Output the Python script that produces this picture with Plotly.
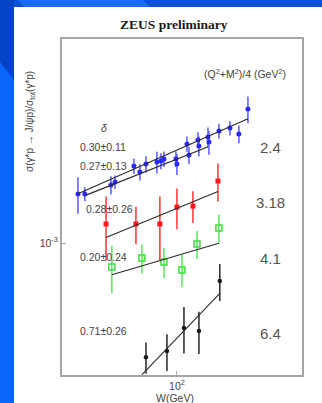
import numpy as np
import plotly.graph_objects as go

# ---- data: W (GeV) and sigma(gamma* p -> J/psi p) / sigma_tot(gamma* p), in units of 1e-3 ----
blue_W = [28.2, 30.8, 43.0, 45.3, 57.7, 62.3, 67.3, 77.4, 81.5, 84.7, 98.7, 100.0,
          113.7, 116.6, 130.8, 132.5, 148.7, 150.6, 171.2, 196.9, 220.8, 247.9]
blue_ratio = [1.531, 1.531, 1.655, 1.699, 1.953, 1.853, 1.987, 2.020, 2.040, 2.075, 2.075, 1.987,
              2.364, 2.148, 2.447, 2.323, 2.512, 2.404, 2.647, 2.716, 2.578, 3.204]
blue_err = [0.24, 0.094, 0.13, 0.10, 0.13, 0.13, 0.14, 0.19, 0.14, 0.14, 0.14, 0.18,
            0.16, 0.16, 0.17, 0.20, 0.22, 0.25, 0.17, 0.17, 0.20, 0.37]

red_W = [40.4, 59.2, 80.4, 100.0, 122.7, 169.0]
red_ratio = [1.180, 1.180, 1.180, 1.367, 1.379, 1.714]
red_err = [0.32, 0.19, 0.32, 0.24, 0.19, 0.28]

green_W = [43.5, 63.9, 84.7, 106.6, 129.2, 171.0]
green_ratio = [0.812, 0.878, 0.848, 0.791, 0.991, 1.139]
green_err = [0.165, 0.11, 0.11, 0.11, 0.12, 0.14]

black_W = [67.3, 88.0, 109.4, 132.5, 173.0]
black_ratio = [0.371, 0.391, 0.478, 0.466, 0.719]
black_err = [0.050, 0.062, 0.095, 0.085, 0.115]

# power-law fits  ratio = norm * (W / 100 GeV)^delta
fit_delta = [0.30, 0.27, 0.28, 0.20, 0.71]
fit_delta_err = [0.11, 0.13, 0.26, 0.24, 0.26]
fit_norm = [2.244, 2.075, 1.352, 0.896, 0.438]      # value at W = 100 GeV, units of 1e-3
fit_Wmin = [28.2, 30.8, 40.4, 43.5, 64.0]
fit_Wmax = [248.0, 149.0, 169.0, 171.0, 173.0]

bin_labels = ["2.4", "3.18", "4.1", "6.4"]

SCALE = 1e-3

W, H = 322, 403
L, R, T, B = 62, 302, 39, 375   # plot frame in pixels


def px(x):
    return (x - L) / (R - L)


def py(y):
    return (B - y) / (B - T)


fig = go.Figure()

series = [
    (blue_W, blue_ratio, blue_err, dict(symbol="circle", size=5, color="#2a2aff"), "#6464ff"),
    (red_W, red_ratio, red_err, dict(symbol="square", size=5, color="#ff1a1a"), "#ff4040"),
    (green_W, green_ratio, green_err,
     dict(symbol="square-open", size=6, color="#3fdc3f", line=dict(width=1.5)), "#66e666"),
    (black_W, black_ratio, black_err, dict(symbol="circle", size=4.5, color="#1a1a1a"), "#333333"),
]

for xs, ys, es, mk, ecol in series:
    fig.add_trace(go.Scatter(
        x=xs, y=np.array(ys) * SCALE, mode="markers", marker=mk,
        error_y=dict(type="data", array=np.array(es) * SCALE, visible=True,
                     color=ecol, thickness=1.6, width=0),
        showlegend=False, hoverinfo="skip"))

for d, n, w0, w1 in zip(fit_delta, fit_norm, fit_Wmin, fit_Wmax):
    wx = np.array([w0, w1])
    fig.add_trace(go.Scatter(
        x=wx, y=n * SCALE * (wx / 100.0) ** d, mode="lines",
        line=dict(color="#2a2a2a", width=1.1),
        showlegend=False, hoverinfo="skip"))

label_font = dict(family="Liberation Sans, Arial, sans-serif", size=10.5, color="#444444")
big_font = dict(family="Liberation Sans, Arial, sans-serif", size=15, color="#555555")

ann = []


def text(x, y, s, font, xanchor="left", angle=0):
    ann.append(dict(x=px(x), y=py(y), xref="paper", yref="paper", text=s,
                    showarrow=False, xanchor=xanchor, yanchor="middle",
                    font=font, textangle=angle))


text(174, 25, "<b>ZEUS preliminary</b>",
     dict(family="Liberation Serif, Times New Roman, serif", size=13.5, color="#1a1a1a"), "center")
text(245, 74, "(Q<sup>2</sup>+M<sup>2</sup>)/4 (GeV<sup>2</sup>)", label_font, "center")
text(104, 128, "<i>δ</i>", label_font, "center")

delta_pos = [(78, 147), (78, 166), (84, 209), (78, 257), (78, 331)]
for (x, y), d, e in zip(delta_pos, fit_delta, fit_delta_err):
    text(x, y, f"{d:.2f}±{e:.2f}", label_font)

for (y, s) in zip([147, 202, 258, 333], bin_labels):
    text(270, y, s, big_font, "center")

text(30, 122, "σ(γ*p → J/ψp)/σ<sub>tot</sub>(γ*p)",
     dict(family="Liberation Sans, Arial, sans-serif", size=10, color="#444444"), "center", -90)
text(175, 398, "W(GeV)", label_font, "center")

# slide background stripes
shapes = [
    dict(type="rect", x0=px(0), x1=px(14), y0=py(403), y1=py(0), fillcolor="#0866fa", line_width=0),
    dict(type="rect", x0=px(0), x1=px(W), y0=py(7), y1=py(0), fillcolor="#0a52d8", line_width=0),
    dict(type="path", path=f"M {px(0)} {py(0)} L {px(14)} {py(0)} L {px(14)} {py(80)} L {px(0)} {py(62)} Z",
         fillcolor="#0444c6", line_width=0),
    dict(type="path", path=f"M {px(18)} {py(0)} L {px(143)} {py(0)} L {px(150)} {py(7)} L {px(25)} {py(7)} Z",
         fillcolor="#1a6cf5", line_width=0),
]
for s in shapes:
    s.update(xref="paper", yref="paper", layer="above")

axis_common = dict(type="log", showgrid=False, zeroline=False, showline=True, mirror=True,
                   linecolor="#a6a6a6", linewidth=2, ticks="inside", ticklen=4,
                   tickcolor="#a6a6a6", tickfont=label_font)

fig.update_layout(
    width=W, height=H,
    margin=dict(l=L, r=W - R, t=T, b=H - B),
    paper_bgcolor="white", plot_bgcolor="white",
    xaxis=dict(axis_common, range=[np.log10(23.0), np.log10(495.0)],
               tickvals=[100], ticktext=["10<sup>2</sup>"]),
    yaxis=dict(axis_common, range=[-3.498, -2.230],
               tickvals=[1e-3], ticktext=["10<sup>-3</sup>"]),
    annotations=ann, shapes=shapes,
)

fig.write_html("out.html", config=dict(displayModeBar=False))
